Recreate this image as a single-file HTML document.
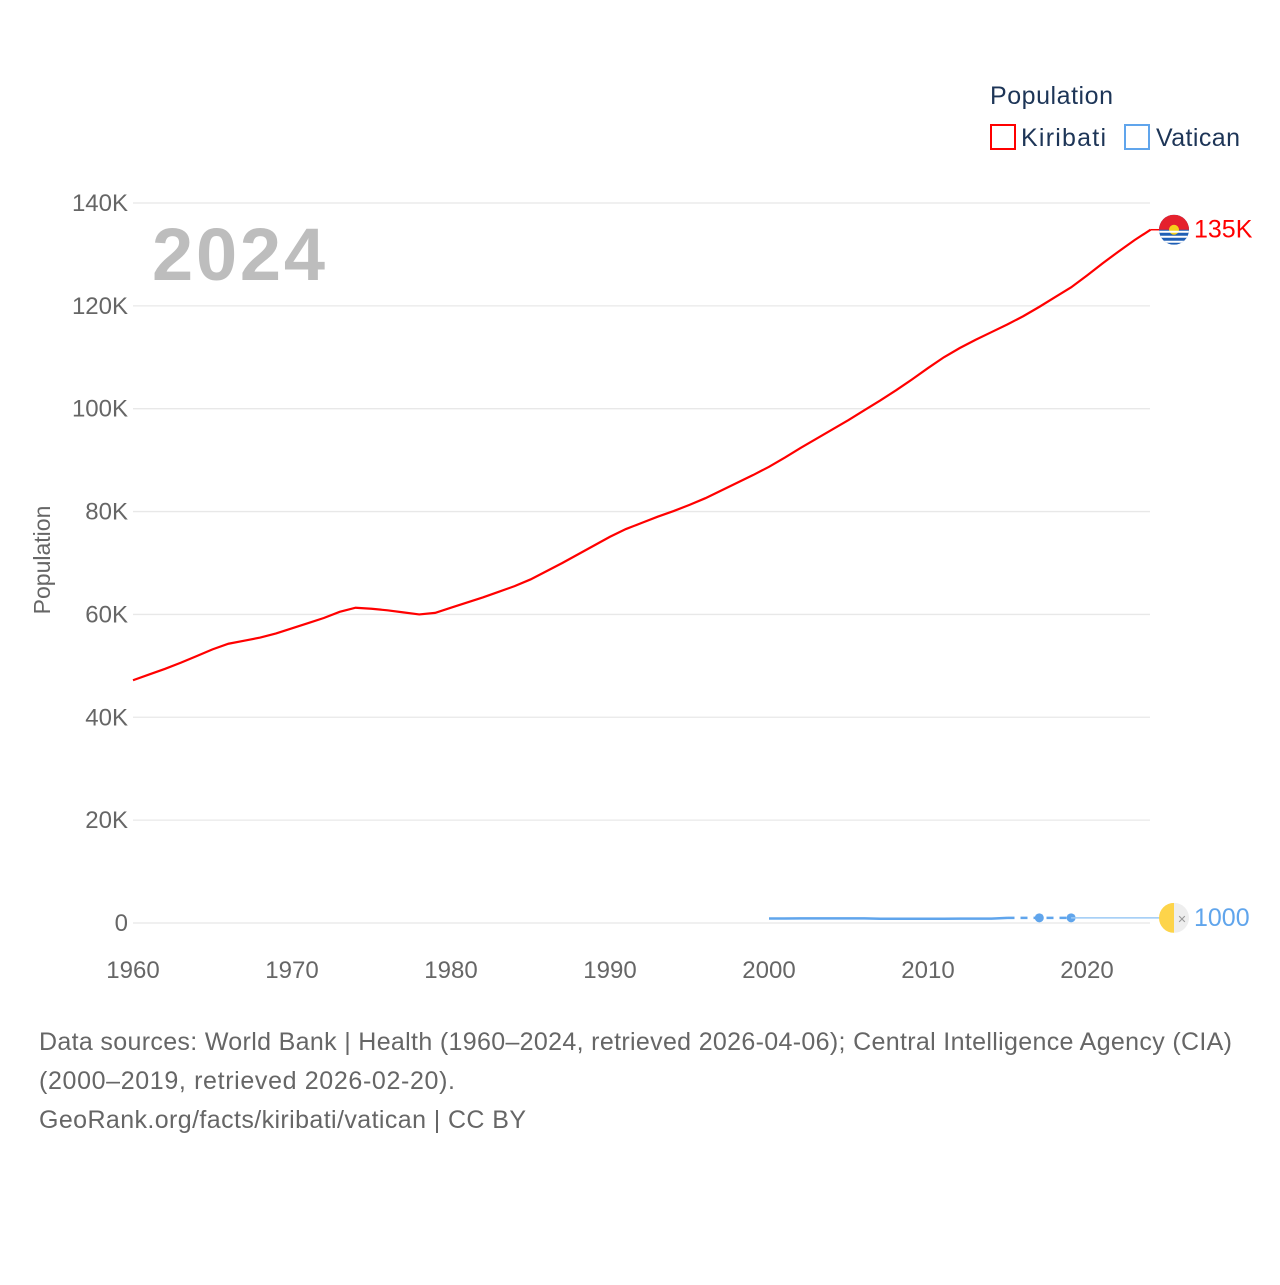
<!DOCTYPE html>
<html><head><meta charset="utf-8"><style>
body{margin:0;background:#fff;width:1280px;height:1280px;overflow:hidden;font-family:"Liberation Sans",sans-serif}
</style></head><body>
<svg id="chart" width="1280" height="1280" xmlns="http://www.w3.org/2000/svg" font-family="Liberation Sans, sans-serif">
<text x="990" y="104" font-size="25" fill="#1d3557" textLength="123">Population</text>
<rect x="991" y="125" width="24" height="24" fill="none" stroke="#f00" stroke-width="2"/>
<text x="1021" y="146" font-size="25" fill="#1d3557" textLength="85">Kiribati</text>
<rect x="1125" y="125" width="24" height="24" fill="none" stroke="#60a5ec" stroke-width="2"/>
<text x="1156" y="146" font-size="25" fill="#1d3557" textLength="84">Vatican</text>
<text x="152" y="280" font-size="74" font-weight="bold" fill="#bdbdbd" textLength="173">2024</text>
<text transform="translate(50,560) rotate(-90)" text-anchor="middle" font-size="23" fill="#666">Population</text>
<g id="grid"></g><g id="xt"></g><g id="series"></g>
<text font-size="25" fill="#666"><tspan x="39" y="1050" textLength="1193">Data sources: World Bank | Health (1960–2024, retrieved 2026-04-06); Central Intelligence Agency (CIA)</tspan><tspan x="39" y="1089" textLength="416">(2000–2019, retrieved 2026-02-20).</tspan><tspan x="39" y="1128" textLength="487">GeoRank.org/facts/kiribati/vatican | CC BY</tspan></text>
</svg>
<script>
const years=[];for(let y=1960;y<=2024;y++)years.push(y);
const kiribati=[47.2,48.3,49.4,50.6,51.9,53.2,54.3,54.9,55.5,56.3,57.3,58.3,59.3,60.5,61.3,61.1,60.8,60.4,60.0,60.3,61.3,62.3,63.3,64.4,65.5,66.8,68.4,70.0,71.7,73.4,75.1,76.6,77.8,79.0,80.1,81.3,82.6,84.1,85.6,87.1,88.7,90.5,92.4,94.2,96.0,97.8,99.7,101.6,103.6,105.7,107.9,110.0,111.8,113.4,114.9,116.4,118.0,119.8,121.7,123.6,125.9,128.3,130.6,132.8,134.8];
const vatYears=[2000,2001,2002,2003,2004,2005,2006,2007,2008,2009,2010,2011,2012,2013,2014,2015,2017,2019];
const vatican=[0.87,0.87,0.9,0.9,0.9,0.9,0.9,0.83,0.83,0.83,0.83,0.83,0.84,0.84,0.84,1.0,1.0,1.0];
const yTicks=[0,20,40,60,80,100,120,140];
const yTickLabels=["0","20K","40K","60K","80K","100K","120K","140K"];
const xTicks=[1960,1970,1980,1990,2000,2010,2020];
const X=y=>133+(y-1960)*15.9, Y=v=>923-v*5.143;
const NS="http://www.w3.org/2000/svg";
function mk(p,t,a){const e=document.createElementNS(NS,t);for(const k in a)e.setAttribute(k,a[k]);document.getElementById(p).appendChild(e);return e;}
yTicks.forEach((v,i)=>{
 const l=mk('grid','line',{x1:133,x2:1150,y1:Y(v),y2:Y(v),stroke:'#e8e8e8','stroke-width':1.3});
 
 
 const t=mk('grid','text',{x:128,y:Y(v)+8,'text-anchor':'end','font-size':24,fill:'#666'});t.textContent=yTickLabels[i];
 
 
});
xTicks.forEach(v=>{
 const t=mk('xt','text',{x:X(v),y:978,'text-anchor':'middle','font-size':24,fill:'#666'});t.textContent=v;
 
 
});
const kp=mk('series','path',{d:kiribati.map((v,i)=>(i?'L':'M')+X(years[i])+','+Y(v)).join(''),fill:'none',stroke:'#f00','stroke-width':2.2});


const kl=kiribati.length-1;
mk('series','line',{x1:X(2024),x2:1160,y1:Y(kiribati[kl]),y2:Y(kiribati[kl]),stroke:'#f00','stroke-width':1.5});
const solidEnd=vatYears.indexOf(2015);
const vp=mk('series','path',{d:vatYears.slice(0,solidEnd+1).map((y,i)=>(i?'L':'M')+X(y)+','+Y(vatican[i])).join(''),fill:'none',stroke:'#60a5ec','stroke-width':2.5});


const vd=mk('series','path',{d:vatYears.slice(solidEnd).map((y,i)=>(i?'L':'M')+X(y)+','+Y(vatican[solidEnd+i])).join(''),fill:'none',stroke:'#60a5ec','stroke-width':2.5,'stroke-dasharray':'7,6'});


[2017,2019].forEach(y=>{const c=mk('series','circle',{cx:X(y),cy:Y(vatican[vatYears.indexOf(y)]),r:4.5,fill:'#60a5ec'});
 
 });
const vl=vatican.length-1;
mk('series','line',{x1:X(2019),x2:1160,y1:Y(vatican[vl]),y2:Y(vatican[vl]),stroke:'#9ccaf5','stroke-width':1.5});
const ky=Y(kiribati[kl]);
const g1=mk('series','g',{});


g1.innerHTML=`<clipPath id="c1"><circle cx="1174" cy="${ky}" r="15"/></clipPath><g clip-path="url(#c1)"><rect x="1159" y="${ky-15}" width="30" height="30" fill="#1f5fb5"/><rect x="1159" y="${ky-15}" width="30" height="15" fill="#e5212d"/><circle cx="1174" cy="${ky}" r="5" fill="#f5d11a"/><path d="M1159 ${ky+2}h30M1159 ${ky+7}h30M1159 ${ky+12}h30" stroke="#fff" stroke-width="2"/></g>`;
const vy=Y(vatican[vl]);
const g2=mk('series','g',{});


g2.innerHTML=`<clipPath id="c2"><circle cx="1174" cy="${vy}" r="15"/></clipPath><g clip-path="url(#c2)"><rect x="1159" y="${vy-15}" width="15" height="30" fill="#fdd44a"/><rect x="1174" y="${vy-15}" width="15" height="30" fill="#eee"/><text x="1182" y="${vy+5}" font-size="11" text-anchor="middle" fill="#999">✕</text></g>`;
const t1=mk('series','text',{x:1194,y:ky+8,'font-size':25,fill:'#f00'});t1.textContent='135K';


const t2=mk('series','text',{x:1194,y:vy+8,'font-size':25,fill:'#60a5ec'});t2.textContent='1000';


</script>
</body></html>
